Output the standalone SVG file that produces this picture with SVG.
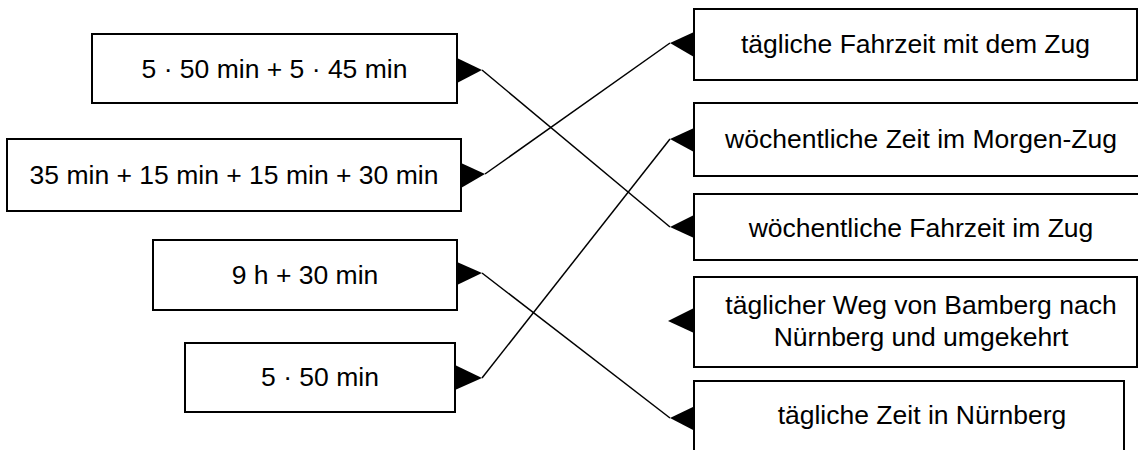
<svg xmlns="http://www.w3.org/2000/svg" width="1138" height="450" viewBox="0 0 1138 450">
<style>
.box{fill:#fff;stroke:#000;stroke-width:2}
.t{font-family:"Liberation Sans",Arial,sans-serif;font-size:26.5px;fill:#000;text-anchor:middle}
.c{stroke:#000;stroke-width:1.5;fill:none}
.ah{fill:#000;stroke:none}
</style>
<rect width="1138" height="450" fill="#fff"/>
<g id="l1"><rect class="box" x="92" y="34" width="365" height="69"/><text class="t" x="274.5" y="78">5 · 50 min + 5 · 45 min</text></g>
<g id="l2"><rect class="box" x="7" y="139" width="454" height="72"/><text class="t" x="234" y="184">35 min + 15 min + 15 min + 30 min</text></g>
<g id="l3"><rect class="box" x="153" y="240" width="304" height="70"/><text class="t" x="305" y="284">9 h + 30 min</text></g>
<g id="l4"><rect class="box" x="185" y="343" width="270" height="69"/><text class="t" x="320" y="386">5 · 50 min</text></g>
<g id="r1"><rect class="box" x="694" y="9" width="443" height="71"/><text class="t" x="915.5" y="53">tägliche Fahrzeit mit dem Zug</text></g>
<g id="r2"><rect class="box" x="694" y="103" width="460" height="73"/><text class="t" x="921" y="148">wöchentliche Zeit im Morgen-Zug</text></g>
<g id="r3"><rect class="box" x="694" y="194" width="460" height="66"/><text class="t" x="921" y="237">wöchentliche Fahrzeit im Zug</text></g>
<g id="r4"><rect class="box" x="694" y="277" width="443" height="90"/><text class="t" x="921" y="314">täglicher Weg von Bamberg nach</text><text class="t" x="921" y="346">Nürnberg und umgekehrt</text></g>
<g id="r5"><rect class="box" x="694" y="381" width="430" height="90"/><text class="t" x="922" y="424">tägliche Zeit in Nürnberg</text></g>
<g id="connectors">
<line class="c" x1="482" y1="70" x2="670" y2="227"/>
<line class="c" x1="485" y1="174" x2="670" y2="43"/>
<line class="c" x1="482" y1="273" x2="670" y2="418"/>
<line class="c" x1="482" y1="378" x2="670" y2="139"/>
<polygon class="ah" points="457,58 457,83 482,70"/>
<polygon class="ah" points="461,163 461,188 485,174"/>
<polygon class="ah" points="457,262 457,285 482,273"/>
<polygon class="ah" points="455,365 455,390 482,378"/>
<polygon class="ah" points="694,32 694,57 670,43"/>
<polygon class="ah" points="694,128 694,152 670,139"/>
<polygon class="ah" points="694,215 694,238 670,227"/>
<polygon class="ah" points="694,308 694,333 668,321"/>
<polygon class="ah" points="695,406 695,431 670,418"/>
</g>
</svg>
